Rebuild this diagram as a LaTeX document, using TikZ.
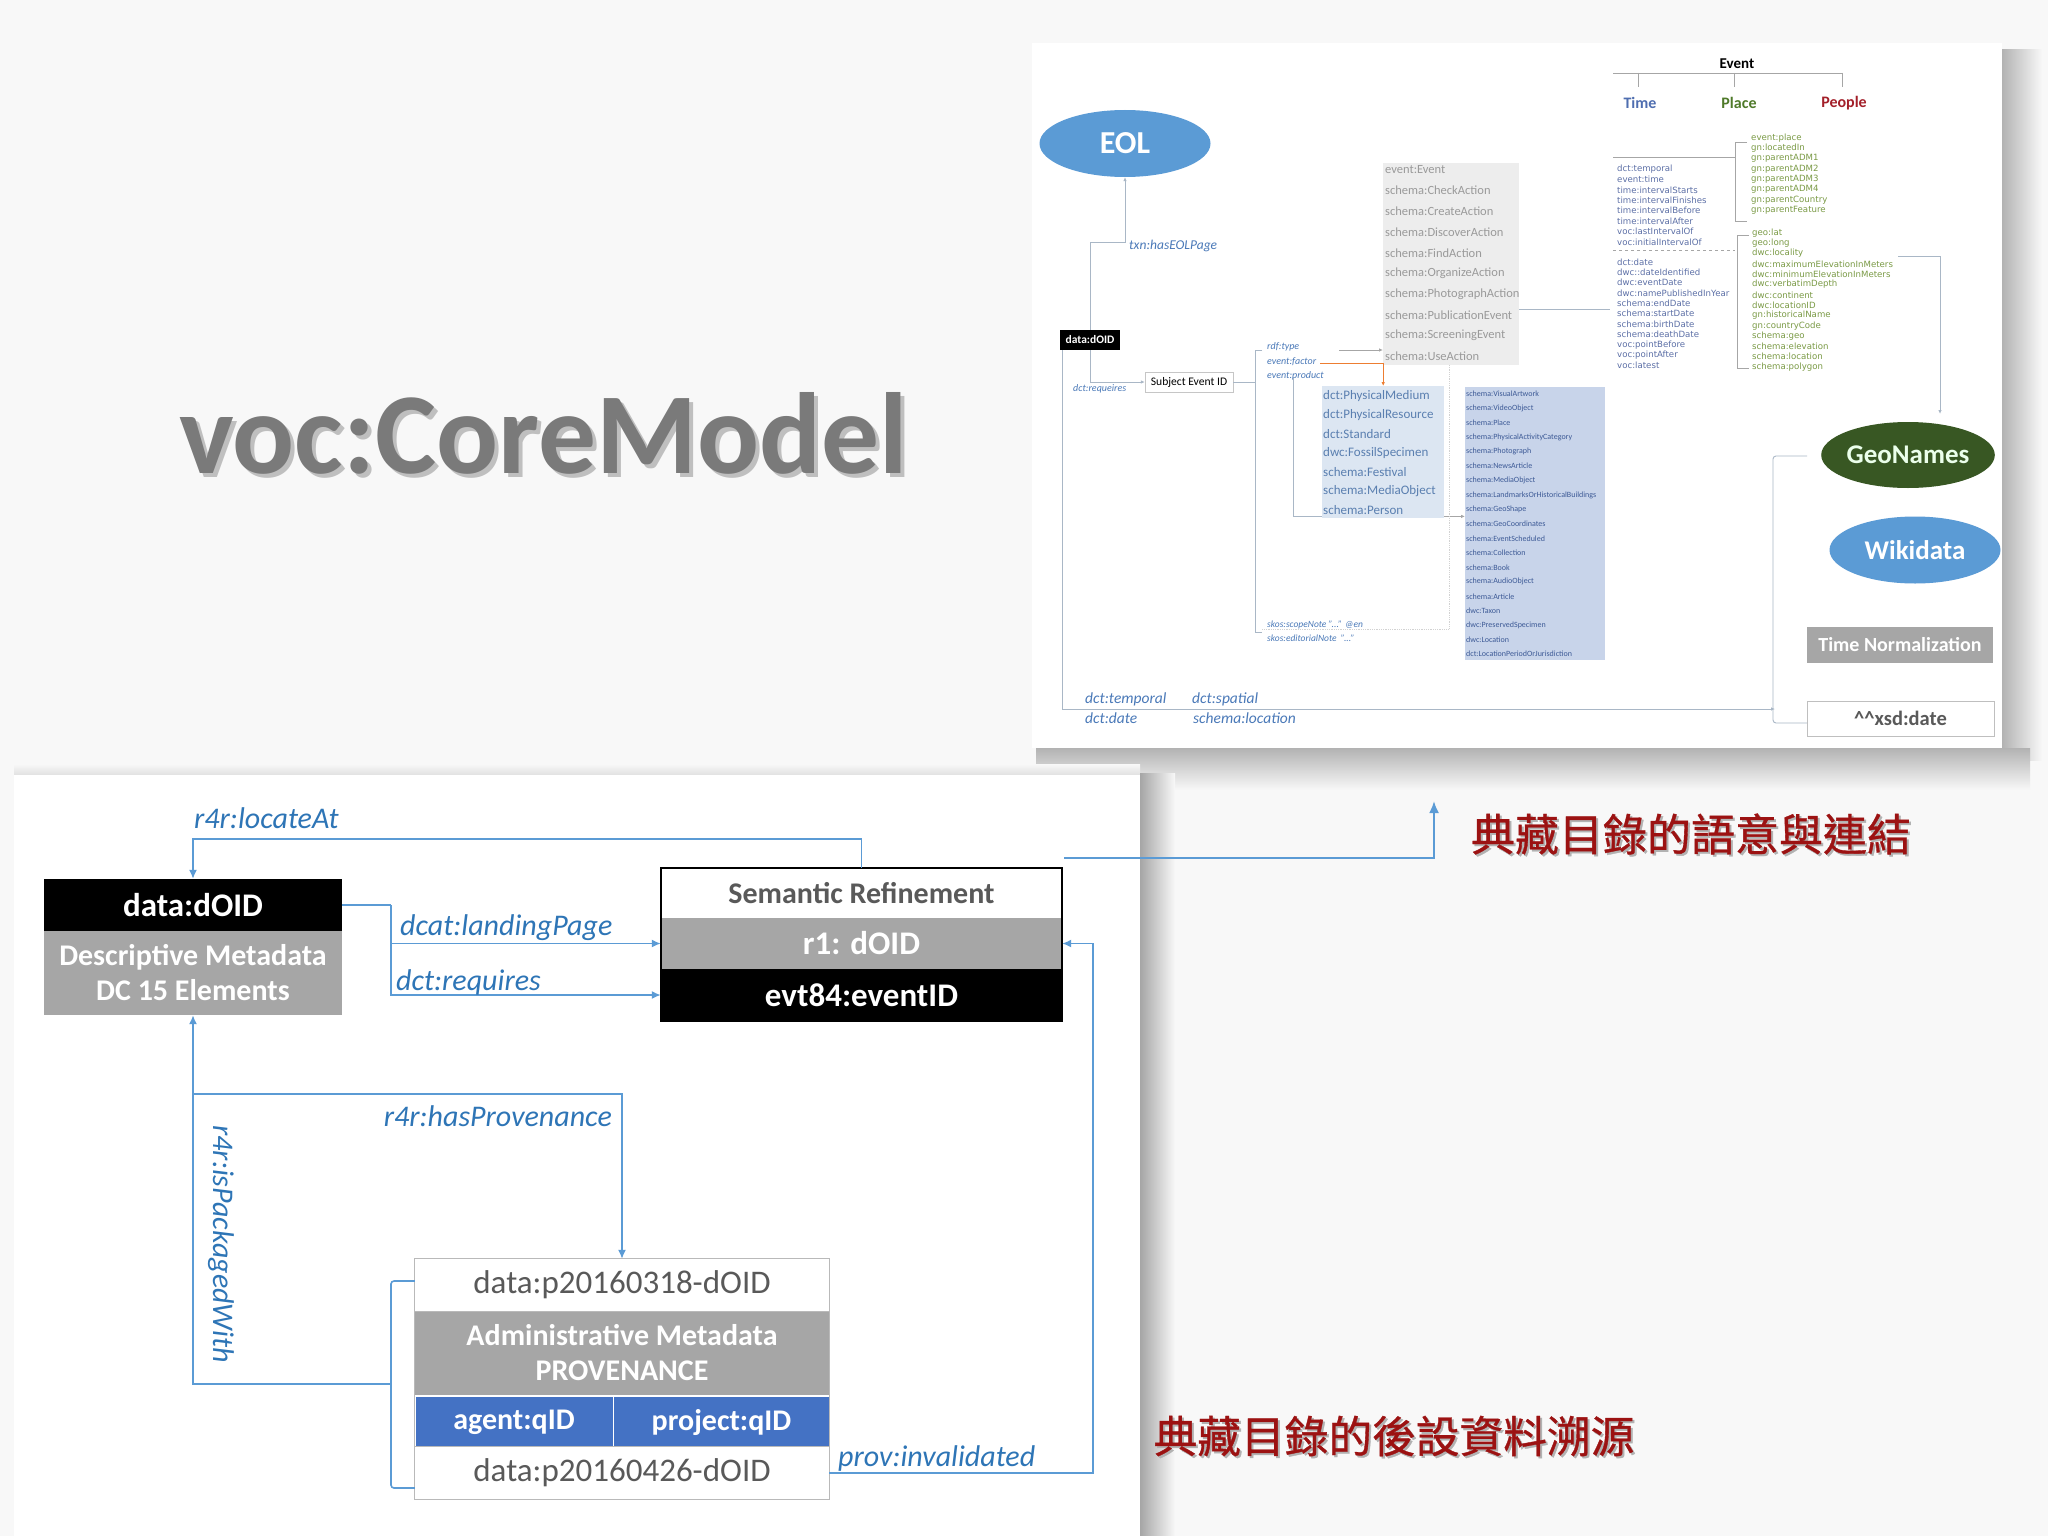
\documentclass[tikz,border=0pt]{standalone}
\usepackage{fontspec}
\setmainfont{Carlito}
\newfontfamily\cjk[FakeBold=0.8]{Noto Sans CJK TC}
\newfontfamily\dvs{DejaVu Sans}
\usetikzlibrary{arrows.meta,shapes.geometric}
\newcommand\myfs[1]{\fontsize{#1}{#1}\selectfont}
\definecolor{bgc}{HTML}{F8F8F8}
\definecolor{eolblue}{HTML}{5B9BD5}
\definecolor{geogreen}{HTML}{385723}
\definecolor{lblue}{HTML}{2E75B6}
\definecolor{slblue}{HTML}{4A79B8}
\definecolor{conn}{HTML}{5B9BD5}
\definecolor{midgray}{HTML}{A6A6A6}
\definecolor{dkgray}{HTML}{595959}
\definecolor{rowblue}{HTML}{4472C4}
\definecolor{cnred}{HTML}{9C1212}
\definecolor{tline}{HTML}{A9B7C6}
\definecolor{gboxc}{HTML}{EDEDED}
\definecolor{dboxc}{HTML}{DCE6F2}
\definecolor{sboxc}{HTML}{C8D4EA}
\definecolor{timec}{HTML}{4F6EB0}
\definecolor{placec}{HTML}{4F7A2A}
\definecolor{peoplec}{HTML}{A3202A}
\definecolor{tlist}{HTML}{5C6FA6}
\definecolor{plist}{HTML}{7A9A45}
\definecolor{dlist}{HTML}{5A7FB0}
\definecolor{slist}{HTML}{3D5A96}
\definecolor{glist}{HTML}{9A9A9A}
\definecolor{orangec}{HTML}{ED7D31}
\begin{document}
\begin{tikzpicture}[x=1pt,y=-1pt,
  lab/.style={text=lblue, font=\itshape\myfs{30}, inner sep=0},
  slab/.style={text=slblue, font=\itshape\myfs{10}, inner sep=0, anchor=west},
  conb/.style={draw=conn, line width=1.6},
  cont/.style={draw=tline, line width=0.9},
  bigtip/.style={-{Latex[length=9,width=8]}},
  smtip/.style={-{Latex[length=4,width=3.5]}},
  glistst/.style={text=glist, font=\myfs{12.5}, inner sep=0, anchor=west},
  dlistst/.style={text=dlist, font=\myfs{13}, inner sep=0, anchor=west},
  slistst/.style={text=slist, font=\myfs{8}, inner sep=0, anchor=west},
  tlistst/.style={text=tlist, font=\dvs\myfs{8.6}, inner sep=0, anchor=west},
  plistst/.style={text=plist, font=\dvs\myfs{8.6}, inner sep=0, anchor=west},
  treeline/.style={draw=gray!70, line width=0.8}]
\useasboundingbox (0,0) rectangle (2048,1536);
% background and panels
\fill[bgc] (0,0) rectangle (2048,1536);
\shade[left color=black!30, right color=bgc] (2002,50) rectangle (2042,760);
\shade[top color=black!30, bottom color=bgc] (1036,748) rectangle (2030,790);
\fill[white] (1032,43) rectangle (2002,748);
\shade[top color=bgc, bottom color=black!12] (14,764) rectangle (1140,775);
\shade[left color=black!35, right color=bgc] (1140,773) rectangle (1175,1536);
\fill[white] (14,775) rectangle (1140,1536);
% title
\node[anchor=base west, inner sep=0, text=black!25, font=\bfseries\myfs{115.5}] (titlesh) at (183,477) {voc:CoreModel};
\node[anchor=base west, inner sep=0, text=black!52, font=\bfseries\myfs{115.5}] (title) at (179,473) {voc:CoreModel};

% ================= top right panel =================
\node[ellipse, fill=eolblue, minimum width=171, minimum height=67, inner sep=0, text=white, font=\bfseries\myfs{32}] (eol) at (1125,143.5) {EOL};
\node[fill=black, text=white, font=\bfseries\myfs{11.5}, minimum width=60, minimum height=20, inner sep=0] (sdoid) at (1090,340) {data:dOID};
\draw[cont, smtip] (sdoid.north) -- ++(0,-87) -| (eol.south);
\node[slab, font=\itshape\myfs{13.5}] (ehl) at (1129,246) {txn:hasEOLPage};
\node[draw=gray!45, fill=white, font=\myfs{11.6}, minimum width=88, minimum height=20, inner sep=0] (subj) at (1189,382) {Subject Event ID};
\draw[cont, smtip] (sdoid.south) |- (subj.west);
\node[slab] (dreq) at (1073,389) {dct:requeires};
% bracket after subject event
\coordinate (bt) at (1255,350);
\coordinate (bb) at (1255,632);
\draw[cont] (subj.east) -- (subj.east -| bt);
\draw[cont] ([xshift=7]bt) -- (bt) -- (bb) -- ++(7,0);
\node[slab] (rdft) at (1267,347) {rdf:type};
\node[slab] (evf) at (1267,362) {event:factor};
\node[slab] (evp) at (1267,376) {event:product};
% gray box
\node[fill=gboxc, minimum width=136, minimum height=202, inner sep=0, anchor=north west] (gbox) at (1383,163) {};
\foreach \t [count=\i from 0] in {event:Event,schema:CheckAction,schema:CreateAction,schema:DiscoverAction,schema:FindAction,schema:OrganizeAction,schema:PhotographAction,schema:PublicationEvent,schema:ScreeningEvent,schema:UseAction}
  \node[glistst] (g\i) at (1385,{170+20.7*\i}) {\t};
% dct box
\node[fill=dboxc, minimum width=122, minimum height=132, inner sep=0, anchor=north west] (dbox) at (1322,386) {};
\foreach \t [count=\i from 0] in {dct:PhysicalMedium,dct:PhysicalResource,dct:Standard,dwc:FossilSpecimen,schema:Festival,schema:MediaObject,schema:Person}
  \node[dlistst] (d\i) at (1323,{396+19*\i}) {\t};
% schema box
\node[fill=sboxc, minimum width=140, minimum height=273, inner sep=0, anchor=north west] (sbox) at (1465,387) {};
\foreach \t [count=\i from 0] in {schema:VisualArtwork,schema:VideoObject,schema:Place,schema:PhysicalActivityCategory,schema:Photograph,schema:NewsArticle,schema:MediaObject,schema:LandmarksOrHistoricalBuildings,schema:GeoShape,schema:GeoCoordinates,schema:EventScheduled,schema:Collection,schema:Book,schema:AudioObject,schema:Article,dwc:Taxon,dwc:PreservedSpecimen,dwc:Location,dct:LocationPeriodOrJurisdiction}
  \node[slistst] (s\i) at (1466,{394+14.45*\i}) {\t};
% connectors in the middle
\coordinate (rt) at (1339,350);
\draw[cont, gray!70, smtip] (rt) -- (rt -| gbox.west);
\coordinate (ef) at (1320,363);
\draw[draw=orangec, line width=0.9, smtip] (ef) -| (dbox.north);
\coordinate (ep) at (1293,378);
\draw[cont] (ep) |- ([yshift=2]dbox.south west);
\draw[draw=gray!70, line width=0.8, smtip] ([yshift=2]dbox.south east) -- ([yshift=2]dbox.south east -| sbox.west);
\coordinate (gb) at (1449,365);
\draw[draw=gray!35, line width=0.8, densely dotted] (gb) -- (1449,629) -- (1262,629);
\node[slab, font=\itshape\myfs{9.5}] (skos1) at (1267,625) {skos:scopeNote ''...'' @en};
\node[slab, font=\itshape\myfs{9.5}] (skos2) at (1267,638) {skos:editorialNote~ ''...''};
\coordinate (gt) at (1610,309);
\draw[cont] (gt -| gbox.east) -- (gt);
% Event tree
\node[inner sep=0, font=\bfseries\myfs{15}] (ev) at (1737,64) {Event};
\draw[treeline] (1613,73) -- (1843,73);
\draw[treeline] (1638,73) -- (1638,87) (1734,73) -- (1734,87) (1842,73) -- (1842,87);
\node[inner sep=0, text=timec, font=\bfseries\myfs{16}] (tm) at (1640,103) {Time};
\node[inner sep=0, text=placec, font=\bfseries\myfs{16}] (pl) at (1739,103) {Place};
\node[inner sep=0, text=peoplec, font=\bfseries\myfs{16}] (pp) at (1844,103) {People};
\draw[treeline] (1613,157) -- (1735,157);
\draw[treeline, dashed] (1613,250) -- (1735,250);
\draw[treeline] (1747,142) -- (1735,142) -- (1735,221) -- (1747,221);
\draw[treeline] (1749,235) -- (1737,235) -- (1737,368) -- (1749,368);
\foreach \t [count=\i from 0] in {dct:temporal,event:time,time:intervalStarts,time:intervalFinishes,time:intervalBefore,time:intervalAfter,voc:lastIntervalOf,voc:initialIntervalOf}
  \node[tlistst] (ta\i) at (1617,{169+10.4*\i}) {\t};
\foreach \t [count=\i from 0] in {dct:date,dwc::dateIdentified,dwc:eventDate,dwc:namePublishedInYear,schema:endDate,schema:startDate,schema:birthDate,schema:deathDate,voc:pointBefore,voc:pointAfter,voc:latest}
  \node[tlistst] (tb\i) at (1617,{262+10.33*\i}) {\t};
\foreach \t [count=\i from 0] in {event:place,gn:locatedIn,gn:parentADM1,gn:parentADM2,gn:parentADM3,gn:parentADM4,gn:parentCountry,gn:parentFeature}
  \node[plistst] (pa\i) at (1751,{138+10.33*\i}) {\t};
\foreach \t [count=\i from 0] in {geo:lat,geo:long,dwc:locality,dwc:maximumElevationInMeters,dwc:minimumElevationInMeters,dwc:verbatimDepth,dwc:continent,dwc:locationID,gn:historicalName,gn:countryCode,schema:geo,schema:elevation,schema:location,schema:polygon}
  \node[plistst] (pb\i) at (1752,{233+10.3*\i}) {\t};
% right side boxes
\node[ellipse, fill=geogreen, minimum width=170, minimum height=66, inner sep=0, text=green!8, font=\bfseries\myfs{27}] (geo) at (1908,455) {GeoNames};
\node[ellipse, fill=eolblue, minimum width=171, minimum height=67, inner sep=0, text=white, font=\bfseries\myfs{27}] (wiki) at (1915,550) {Wikidata};
\node[fill=midgray, minimum width=186, minimum height=36, inner sep=0, text=white, font=\bfseries\myfs{20}] (tn) at (1900,645) {Time Normalization};
\node[draw=gray!50, fill=white, minimum width=187, minimum height=35, inner sep=0, text=dkgray, font=\bfseries\myfs{20.5}] (xsd) at (1900.5,718.5) {\^{}\^{}xsd:date};
\coordinate (rb) at (1940,256);
\draw[cont, smtip] (1898,256) -- (rb) -- (1940,414);
\draw[cont, rounded corners=3] (1807,456) -- (1773,456) -- (1773,723) -- (1807,723);
\coordinate (dl) at (1062,350);
\draw[cont, smtip] (dl) -- (1062,709) -- (1775,709);
\node[slab, font=\itshape\myfs{15.5}] (dtemp) at (1085,699) {dct:temporal};
\node[slab, font=\itshape\myfs{15.5}] (ddate) at (1085,718) {dct:date};
\node[slab, font=\itshape\myfs{15.5}] (dspat) at (1192,699) {dct:spatial};
\node[slab, font=\itshape\myfs{15.5}] (sloc) at (1193,718) {schema:location};

% ================= bottom left panel =================
\node[fill=black, text=white, font=\bfseries\myfs{33}, minimum width=298, minimum height=52, inner sep=0] (ddoid) at (193,905) {data:dOID};
\node[fill=midgray, text=white, font=\bfseries\fontsize{30}{35}\selectfont, minimum width=298, minimum height=84, inner sep=0, align=center] (desc) at (193,973) {Descriptive Metadata\\DC 15 Elements};
\node[fill=white, text=dkgray, font=\bfseries\myfs{30}, minimum width=401, minimum height=50, inner sep=0] (sr) at (861.5,893) {Semantic Refinement};
\node[fill=midgray, text=white, font=\bfseries\myfs{33}, minimum width=401, minimum height=51, inner sep=0] (r1) at (861.5,943.5) {r1: dOID};
\node[fill=black, text=white, font=\bfseries\myfs{33}, minimum width=401, minimum height=52, inner sep=0] (evt) at (861.5,995) {evt84:eventID};
\draw[black, line width=1.5] (sr.north west) rectangle (evt.south east);
% admin box
\node[fill=white, text=dkgray, font=\myfs{33}, minimum width=414, minimum height=52, inner sep=0] (adm1) at (622,1285) {data:p20160318-dOID};
\node[fill=midgray, text=white, font=\bfseries\fontsize{30}{35}\selectfont, minimum width=414, minimum height=84, inner sep=0, align=center] (adm2) at (622,1353) {Administrative Metadata\\PROVENANCE};
\node[fill=rowblue, text=white, font=\bfseries\myfs{30}, minimum width=197, minimum height=50, inner sep=0] (agent) at (514,1422) {agent:qID};
\node[fill=rowblue, text=white, font=\bfseries\myfs{30}, minimum width=215, minimum height=50, inner sep=0] (proj) at (721.5,1422) {project:qID};
\node[fill=white, text=dkgray, font=\myfs{33}, minimum width=414, minimum height=52, inner sep=0] (adm4) at (622,1473) {data:p20160426-dOID};
\draw[gray!55, line width=1] (adm1.north west) rectangle (adm4.south east);
\draw[gray!55, line width=0.8] (adm1.south west) -- (adm1.south east) (adm4.north west) -- (adm4.north east);
% connectors
\draw[conb, bigtip] (sr.north) -- ++(0,-29) -| (ddoid.north);
\node[lab, anchor=west] (loc) at (194,818) {r4r:locateAt};
\coordinate (jn) at (391,905);
\draw[conb] (ddoid.east) -- (jn);
\draw[conb, bigtip] (jn) |- (r1.west);
\draw[conb, bigtip] (jn) |- (evt.west);
\node[lab, anchor=west] (dlp) at (400,928) {dcat:landingPage};
\node[lab, anchor=west] (dreq2) at (396,982) {dct:requires};
\coordinate (pk) at (391,1384);
\draw[conb, bigtip] (pk) -| (desc.south);
\draw[conb, rounded corners=3] (adm1.west |- 0,1281) -- (391,1281) -- (391,1488) -- (adm4.west |- 0,1488);
\node[lab, rotate=-90] (ipw) at (221,1244) {r4r:isPackagedWith};
\coordinate (hp) at (193,1094);
\draw[conb, bigtip] (hp) -| (adm1.north);
\node[lab, anchor=east] (hpl) at (612,1116) {r4r:hasProvenance};
\coordinate (pv) at (1093,1473);
\draw[conb, bigtip] (adm4.east) -- (pv) |- (r1.east);
\node[lab, anchor=west] (pvl) at (838,1458) {prov:invalidated};
% link to top panel
\coordinate (la) at (1064,858);
\coordinate (lb) at (1434,801);
\draw[conb, line width=2.2, -{Latex[length=12,width=10]}] (la) -| (lb);
% Chinese captions
\node[inner sep=0, text=black!30, font=\cjk\myfs{44}] (cn1s) at (1693,836) {典藏目錄的語意與連結};
\node[inner sep=0, text=cnred, font=\cjk\myfs{44}] (cn1) at (1691,834) {典藏目錄的語意與連結};
\node[inner sep=0, text=black!30, font=\cjk\myfs{43.7}] (cn2s) at (1396,1438) {典藏目錄的後設資料溯源};
\node[inner sep=0, text=cnred, font=\cjk\myfs{43.7}] (cn2) at (1394,1436) {典藏目錄的後設資料溯源};
\end{tikzpicture}
\end{document}
